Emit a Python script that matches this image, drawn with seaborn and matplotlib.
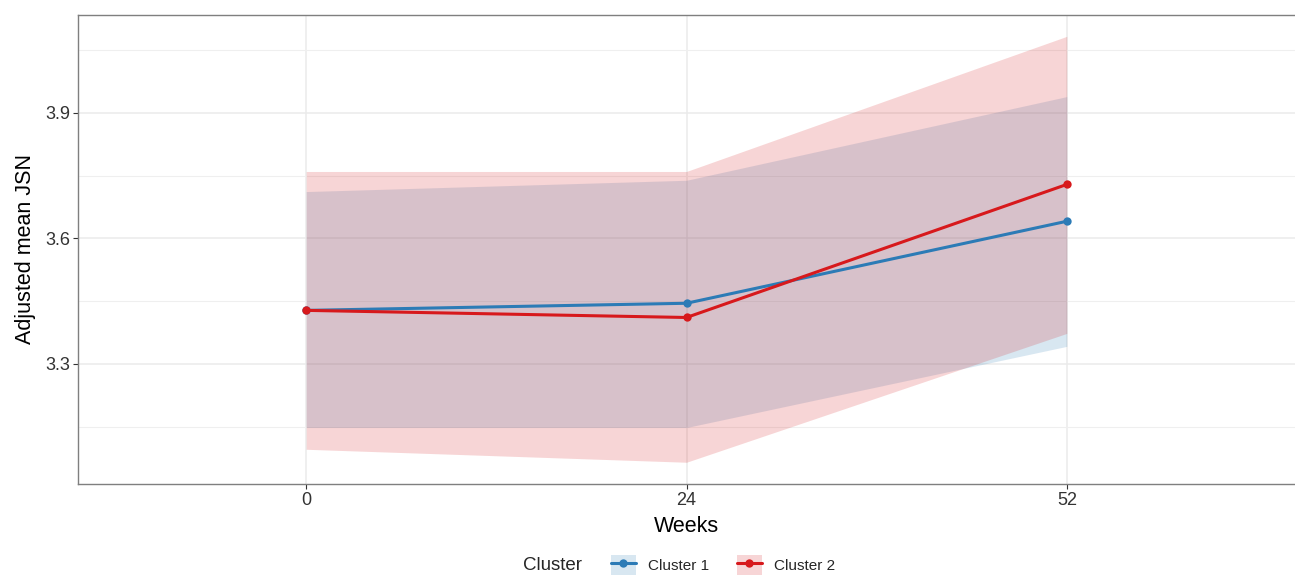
import numpy as np
import pandas as pd
import matplotlib
matplotlib.use("Agg")
import matplotlib.pyplot as plt
from matplotlib.lines import Line2D
from matplotlib.patches import Patch
from matplotlib.legend_handler import HandlerTuple
from matplotlib.ticker import MultipleLocator
import seaborn as sns

weeks = ["0", "24", "52"]
clusters = ["Cluster 1", "Cluster 2"]
mean_c1 = [3.428, 3.445, 3.641]
lower_c1 = [3.148, 3.148, 3.342]
upper_c1 = [3.712, 3.739, 3.939]
mean_c2 = [3.428, 3.411, 3.729]
lower_c2 = [3.096, 3.065, 3.373]
upper_c2 = [3.760, 3.760, 4.083]
colors = ["#2C7BB6", "#D7191C"]

sns.set_theme(style="white")
plt.rcParams["font.family"] = ["Liberation Sans", "DejaVu Sans"]

df = pd.DataFrame({
    "Weeks": weeks * 2,
    "pos": list(range(len(weeks))) * 2,
    "mean": mean_c1 + mean_c2,
    "lower": lower_c1 + lower_c2,
    "upper": upper_c1 + upper_c2,
    "Cluster": [clusters[0]] * 3 + [clusters[1]] * 3,
})

fig = plt.figure(figsize=(12.95, 5.77), dpi=100)
ax = fig.add_axes([78 / 1295, 1 - 484 / 577, 1 - 78 / 1295, (484 - 15) / 577])

for cl, col in zip(clusters, colors):
    d = df[df["Cluster"] == cl]
    ax.fill_between(d["pos"], d["lower"], d["upper"], color=col, alpha=0.18, lw=0, zorder=2)

sns.lineplot(data=df, x="pos", y="mean", hue="Cluster", palette=colors,
             marker="o", markersize=6, markeredgewidth=0, linewidth=2.2,
             ax=ax, legend=False, zorder=3)

ax.set_xlim(-0.6, 2.6)
ax.set_ylim(3.013, 4.134)
ax.set_xticks(range(len(weeks)))
ax.set_xticklabels(weeks)
ax.yaxis.set_minor_locator(MultipleLocator(0.15))
ax.set_yticks([3.3, 3.6, 3.9])
ax.set_yticklabels(["3.3", "3.6", "3.9"])
ax.grid(True, which="major", color="#EBEBEB", lw=1.1, zorder=0)
ax.grid(True, which="minor", axis="y", color="#EFEFEF", lw=0.8, zorder=0)
ax.set_axisbelow(True)
ax.tick_params(axis="both", which="major", labelsize=13, labelcolor="#333333",
               length=3.5, width=0.8, color="#333333", direction="out", pad=2, left=True, bottom=True)
ax.tick_params(axis="y", which="minor", length=0)
for s in ["left", "top", "bottom"]:
    ax.spines[s].set_color("#7F7F7F")
    ax.spines[s].set_linewidth(1.0)
ax.spines["right"].set_visible(False)

ax.set_xlabel("Weeks", fontsize=15.5, labelpad=5, color="black")
ax.set_ylabel("Adjusted mean JSN", fontsize=15.5, labelpad=7, color="black")

handles = []
for col in colors:
    bg = Patch(facecolor=col, alpha=0.18, edgecolor="none")
    ln = Line2D([], [], color=col, lw=2.2, marker="o", markersize=6, markeredgewidth=0)
    handles.append((bg, ln))
fig.legend(handles, clusters, loc="center", bbox_to_anchor=(723 / 1295, 1 - 565 / 577),
           ncol=2, frameon=False, fontsize=11, handlelength=1.6, handleheight=1.6,
           handletextpad=0.8, columnspacing=1.85,
           handler_map={tuple: HandlerTuple(ndivide=1, pad=0)})
fig.text(552 / 1295, 1 - 566 / 577, "Cluster", fontsize=13.5, ha="center", va="center")

fig.savefig("out.png", dpi=100)
